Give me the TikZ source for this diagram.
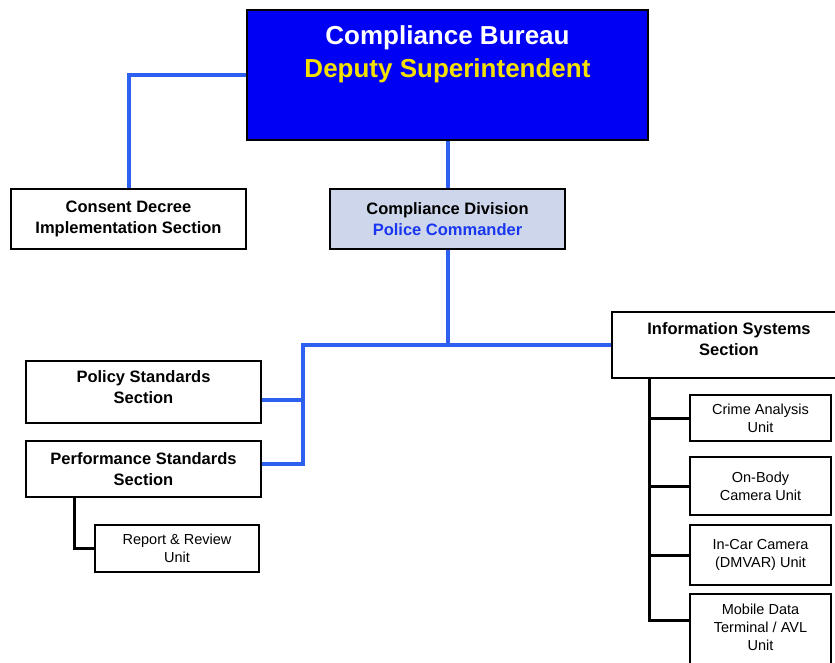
\documentclass[tikz,border=0pt]{standalone}
\usepackage{fontspec}
\setmainfont{Liberation Sans}
\definecolor{topblue}{RGB}{0,0,245}
\definecolor{deputy}{RGB}{245,225,0}
\definecolor{linkblue}{RGB}{45,95,240}
\definecolor{divfill}{RGB}{205,214,234}
\definecolor{cmdblue}{RGB}{25,55,240}
\begin{document}
\begin{tikzpicture}[x=1pt,y=-1pt,
  box/.style={draw=black,line width=1.8pt,fill=white,inner sep=0pt,align=center,font=\bfseries\fontsize{16.5}{21}\selectfont},
  unitbox/.style={draw=black,line width=1.6pt,fill=white,inner sep=0pt,minimum width=141pt,align=center,font=\fontsize{14.5}{18}\selectfont},
  blueline/.style={draw=linkblue,line width=4pt,line join=miter},
  blackline/.style={draw=black,line width=3pt,line join=miter}]
\useasboundingbox (0,0) rectangle (835,662);
% top
\node[box,fill=topblue,minimum width=401pt,minimum height=130pt] (top) at (447.5,75) {};
\node[align=center,font=\bfseries\fontsize{26}{33}\selectfont,inner sep=0pt] (toptext) at (447.5,54)
  {\textcolor{white}{Compliance Bureau}\\\textcolor{deputy}{Deputy Superintendent}};
% second level
\node[box,minimum width=235pt,minimum height=60pt] (consent) at (128.5,219) {Consent Decree\\Implementation Section};
\node[box,fill=divfill,minimum width=235pt,minimum height=60pt] (div) at (447.5,219) {Compliance Division\\\textcolor{cmdblue}{Police Commander}};
% sections
\node[box,minimum width=235pt,minimum height=62pt,text depth=9pt] (policy) at (143.5,392) {Policy Standards\\Section};
\node[box,minimum width=235pt,minimum height=56pt] (perf) at (143.5,469) {Performance Standards\\Section};
\node[unitbox,minimum width=164pt,minimum height=47pt] (report) at (177,548.5) {Report \& Review\\Unit};
\node[box,minimum width=234pt,minimum height=66pt,text depth=12pt] (info) at (729,345) {Information Systems\\Section};
% units
\node[unitbox,minimum height=46pt] (crime) at (760.5,418) {Crime Analysis\\Unit};
\node[unitbox,minimum height=58pt] (body) at (760.5,486) {On-Body\\Camera Unit};
\node[unitbox,minimum height=60pt] (car) at (760.5,555) {In-Car Camera\\(DMVAR) Unit};
\node[unitbox,minimum height=82pt,anchor=north] (mobile) at (760.5,593) {};
\node[align=center,inner sep=0pt,font=\fontsize{14.5}{18}\selectfont] (mobiletext) at (760.5,627) {Mobile Data\\Terminal / AVL\\Unit};
% blue connectors
\draw[blueline] (consent.north) |- (top.west);
\draw[blueline] (top.south) -- (div.north);
\coordinate (busL) at (303,345);
\coordinate (polJ) at (303,400);
\coordinate (perfJ) at (303,464);
\draw[blueline] (div.south) -- (div.south |- busL);
\draw[blueline] (info.west) -- (busL) -- (perfJ) -- (perf.east |- perfJ);
\draw[blueline] (policy.east |- polJ) -- (polJ);
% black connectors
\coordinate (perfV) at (74,0);
\draw[blackline] (perfV |- perf.south) |- (report.west);
\coordinate (infoV) at (649,0);
\coordinate (mobJ) at (649,620);
\draw[blackline] (infoV |- info.south) -- (mobJ) -- (mobJ -| mobile.west);
\draw[blackline] (infoV |- crime.west) -- (crime.west);
\draw[blackline] (infoV |- body.west) -- (body.west);
\draw[blackline] (infoV |- car.west) -- (car.west);
\end{tikzpicture}
\end{document}
